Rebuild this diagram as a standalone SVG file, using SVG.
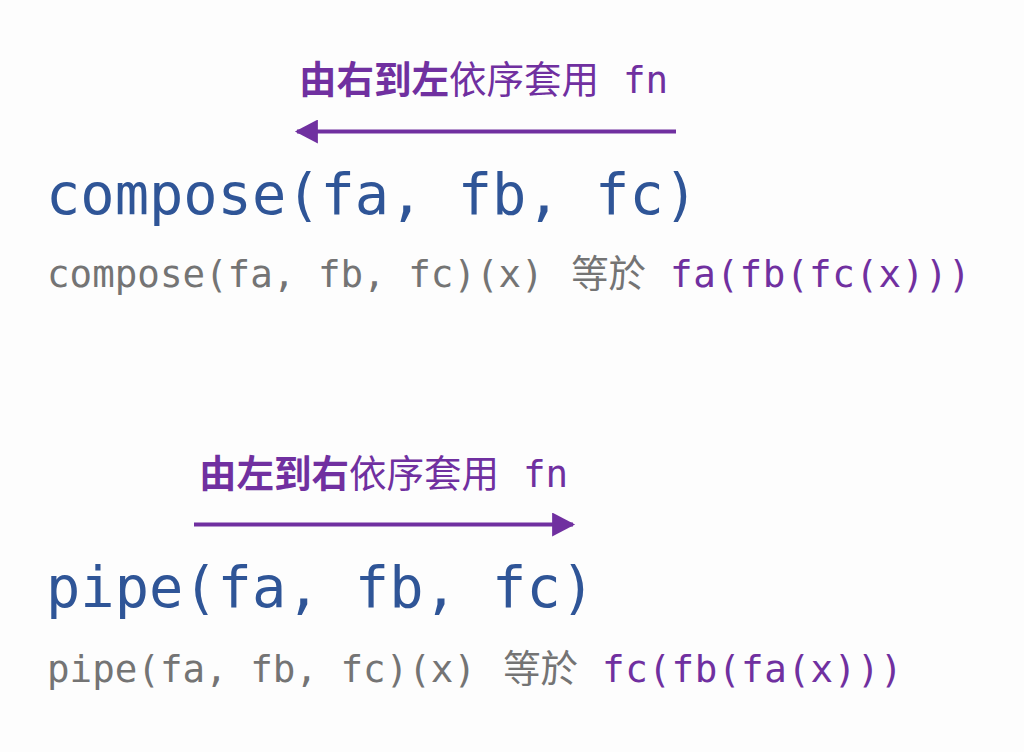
<svg xmlns="http://www.w3.org/2000/svg" width="1024" height="752" viewBox="0 0 1024 752">
<style>
.mono{font-family:"DejaVu Sans Mono","Liberation Mono","Noto Sans CJK TC",monospace;}
.cjk{font-family:"Noto Sans CJK TC","Noto Sans CJK SC",sans-serif;}
.title{font-size:37.5px;fill:#7030a0;}
.big{font-size:57px;fill:#2f5597;}
.sub{font-size:37.5px;fill:#747474;}
.pur{fill:#7030a0;letter-spacing:0.6px;}
.b{font-weight:bold;}
</style>
<defs>
<marker id="ah" markerUnits="userSpaceOnUse" markerWidth="24" markerHeight="24" viewBox="0 0 22 23" refX="20" refY="11.5" orient="auto">
<path d="M0,0 L22,11.5 L0,23 Z" fill="#7030a0"/>
</marker>
</defs>
<rect width="1024" height="752" fill="#fdfdfd"/>
<g id="compose-title">
<text class="title" y="93"><tspan class="cjk b" x="299">由右到左</tspan><tspan class="cjk">依序套用</tspan><tspan class="mono" x="623">fn</tspan></text>
</g>
<g id="compose-code">
<text class="mono big" x="46" y="214">compose(fa, fb, fc)</text>
</g>
<g id="compose-desc">
<text class="sub" y="287"><tspan class="mono" x="47">compose(fa, fb, fc)(x)</tspan><tspan class="cjk" x="571">等於</tspan><tspan class="mono pur" x="670">fa(fb(fc(x)))</tspan></text>
</g>
<g id="pipe-title">
<text class="title" y="487"><tspan class="cjk b" x="199">由左到右</tspan><tspan class="cjk">依序套用</tspan><tspan class="mono" x="523">fn</tspan></text>
</g>
<g id="pipe-code">
<text class="mono big" x="46" y="607">pipe(fa, fb, fc)</text>
</g>
<g id="pipe-desc">
<text class="sub" y="682"><tspan class="mono" x="47">pipe(fa, fb, fc)(x)</tspan><tspan class="cjk" x="503">等於</tspan><tspan class="mono pur" x="602">fc(fb(fa(x)))</tspan></text>
</g>
<g id="connectors" stroke="#7030a0" stroke-width="4" fill="none">
<line x1="676" y1="131.5" x2="297" y2="131.5" marker-end="url(#ah)"/>
<line x1="194" y1="524.5" x2="573" y2="524.5" marker-end="url(#ah)"/>
</g>
</svg>
